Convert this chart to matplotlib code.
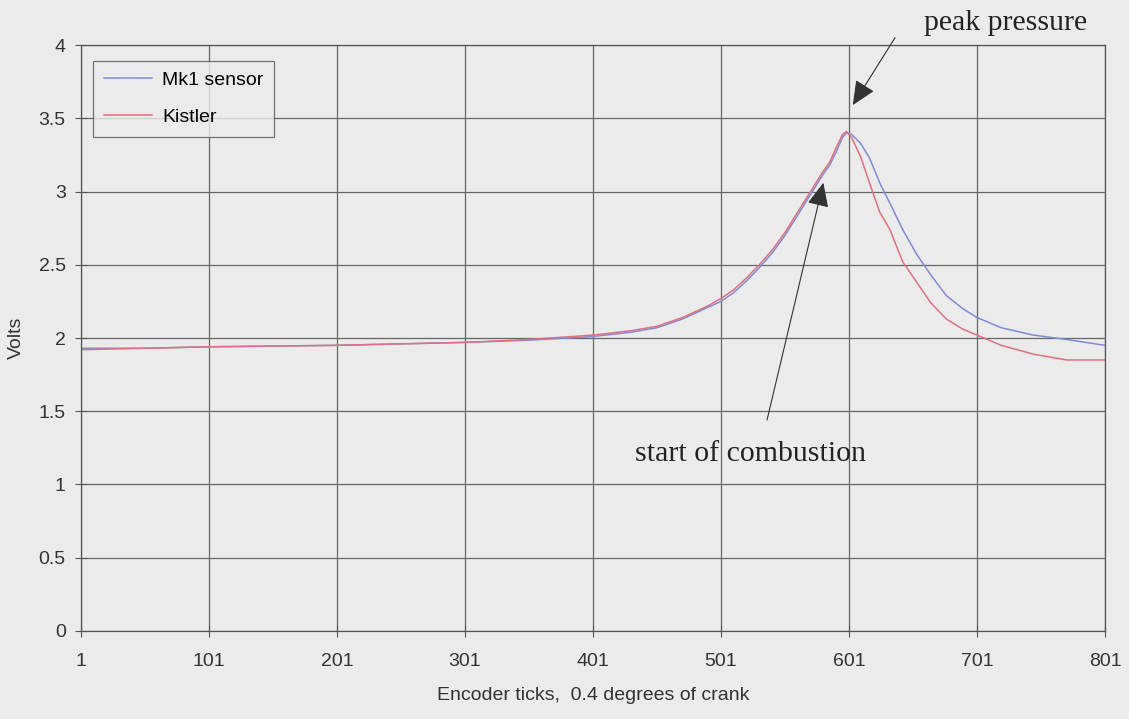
import matplotlib
matplotlib.use("Agg")
import matplotlib.pyplot as plt

# encoder tick positions and the two traces (volts)
ticks = [1, 51, 101, 151, 201, 251, 301, 351, 401, 431, 451, 471, 491, 501,
         511, 521, 531, 541, 551, 561, 571, 581, 586, 591, 596, 599, 603,
         610, 617, 625, 633, 643, 654, 665, 677, 690, 701, 720, 745, 771, 801]
mk1 = [1.93, 1.93, 1.94, 1.945, 1.95, 1.96, 1.97, 1.985, 2.01, 2.04, 2.07,
       2.13, 2.21, 2.25, 2.31, 2.39, 2.48, 2.58, 2.70, 2.84, 2.98, 3.12, 3.18,
       3.27, 3.37, 3.40, 3.39, 3.33, 3.23, 3.06, 2.92, 2.74, 2.57, 2.43, 2.29,
       2.20, 2.14, 2.07, 2.02, 1.99, 1.95]
kistler = [1.92, 1.93, 1.94, 1.945, 1.95, 1.96, 1.97, 1.99, 2.02, 2.05, 2.08,
           2.14, 2.22, 2.27, 2.33, 2.41, 2.50, 2.60, 2.72, 2.86, 3.00, 3.14,
           3.20, 3.30, 3.39, 3.41, 3.37, 3.24, 3.06, 2.86, 2.74, 2.52, 2.38,
           2.24, 2.13, 2.06, 2.02, 1.95, 1.89, 1.85, 1.85]

xticks = [1, 101, 201, 301, 401, 501, 601, 701, 801]
yticks = [0, 0.5, 1, 1.5, 2, 2.5, 3, 3.5, 4]
ylabels = ["0", "0.5", "1", "1.5", "2", "2.5", "3", "3.5", "4"]

bg = "#ebebeb"
plt.rcParams["font.family"] = ["Liberation Sans", "DejaVu Sans"]

fig = plt.figure(figsize=(11.29, 7.19), dpi=100, facecolor=bg)
ax = fig.add_axes([0.0717, 0.1224, 0.907, 0.815])
ax.set_facecolor(bg)

ax.plot(ticks, mk1, color="#7f8cd6", lw=1.1, label="Mk1 sensor")
ax.plot(ticks, kistler, color="#e0707e", lw=1.1, label="Kistler")

ax.set_xlim(1, 801)
ax.set_ylim(0, 4)
ax.set_xticks(xticks)
ax.set_yticks(yticks)
ax.set_yticklabels(ylabels)
ax.tick_params(direction="inout", length=8, width=0.8, color="#555555",
               labelsize=14, colors="#333333")
ax.tick_params(axis="x", pad=12)
ax.tick_params(axis="y", pad=7)
ax.grid(True, color="#666666", lw=0.9)
ax.set_axisbelow(True)
for s in ax.spines.values():
    s.set_color("#555555")
    s.set_linewidth(0.9)

ax.set_xlabel("Encoder ticks,  0.4 degrees of crank", fontsize=14,
              color="#333333", labelpad=12)
ax.set_ylabel("Volts", fontsize=14, color="#333333", labelpad=10)

leg = ax.legend(loc="upper left", bbox_to_anchor=(0.0117, 0.973), fontsize=14,
                frameon=True, fancybox=False, handlelength=2.5,
                borderpad=0.55, labelspacing=1.0, handletextpad=0.5,
                borderaxespad=0)
leg.get_frame().set_edgecolor("#555555")
leg.get_frame().set_facecolor(bg)
leg.get_frame().set_linewidth(0.9)

arrow = dict(arrowstyle="-|>,head_length=1.0,head_width=0.45",
             color="#333333", lw=0.8, shrinkA=0, shrinkB=0, mutation_scale=15)
ax.annotate("", xy=(604, 3.59), xytext=(637, 4.05), annotation_clip=False,
            arrowprops=arrow)
ax.text(660, 4.15, "peak pressure", fontsize=21.5, family="Liberation Serif",
        color="#222222", ha="left", va="center", clip_on=False)
ax.annotate("", xy=(581, 3.06), xytext=(537, 1.44), arrowprops=arrow)
ax.text(524, 1.21, "start of combustion", fontsize=21.5,
        family="Liberation Serif", color="#222222", ha="center", va="center")

fig.savefig("out.png", dpi=100, facecolor=bg)
